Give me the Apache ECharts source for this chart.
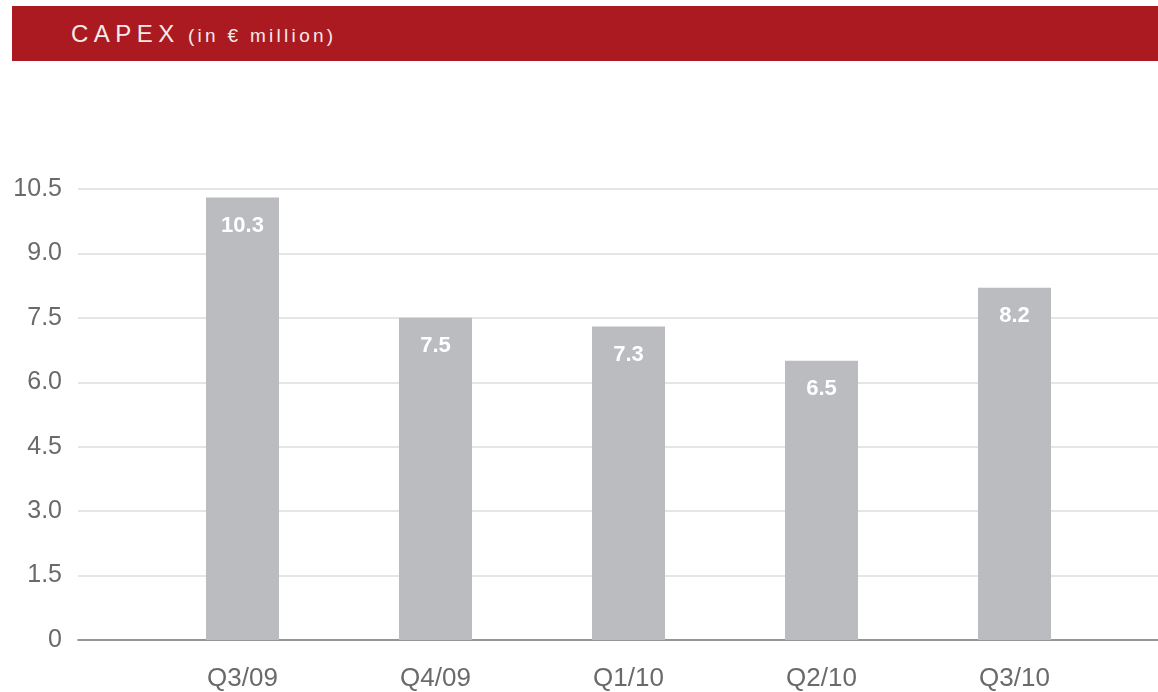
<!DOCTYPE html>
<html>
<head>
<meta charset="utf-8">
<title>CAPEX</title>
<script src="https://cdn.jsdelivr.net/npm/echarts@6/dist/echarts.min.js"></script>
<style>
  html, body { margin: 0; padding: 0; background: #ffffff; }
  #wrap { position: relative; width: 1158px; height: 692px; }
  #header {
    position: absolute; left: 12px; top: 6px; width: 1146px; height: 55px;
    background: #ab1a20; z-index: 2;
    font-family: "Liberation Sans", Arial, sans-serif; color: #f6eaea;
    font-size: 24px; line-height: 55px;
    box-sizing: border-box; padding-left: 59px; white-space: nowrap;
  }
  #header .main { font-size: 24px; letter-spacing: 5.5px; }
  #header .unit { font-size: 19px; letter-spacing: 3.3px; margin-left: 8px; }
  #chart { position: absolute; left: 0; top: 0; width: 1158px; height: 692px; }
</style>
</head>
<body>
<div id="wrap">
  <div id="chart"></div>
  <div id="header"><span class="main">CAPEX</span><span class="unit">(in € million)</span></div>
</div>
<script>
// Quarterly capital expenditure, € million
const quarters = ['Q3/09', 'Q4/09', 'Q1/10', 'Q2/10', 'Q3/10'];
const capex = [10.3, 7.5, 7.3, 6.5, 8.2];
const yTicks = { min: 0, max: 10.5, step: 1.5 };

const font = '"Liberation Sans", Arial, sans-serif';
const chart = echarts.init(document.getElementById('chart'), null, { renderer: 'canvas' });

chart.setOption({
  animation: false,
  textStyle: { fontFamily: font },
  grid: [
    // full-width grid carrying the value scale, gridlines and baseline
    { left: 78, right: 0, top: 189, bottom: 52 },
    // inner grid where the quarterly bars sit
    { left: 146, right: 47, top: 189, bottom: 52 }
  ],
  xAxis: [
    {
      type: 'category', gridIndex: 0, data: quarters,
      axisLine: { show: true, lineStyle: { color: '#7b7b7b', width: 1.5 } },
      axisTick: { show: false }, axisLabel: { show: false }, splitLine: { show: false }
    },
    {
      type: 'category', gridIndex: 1, data: quarters,
      axisLine: { show: false }, axisTick: { show: false },
      axisLabel: { color: '#6a6a6a', fontSize: 26, margin: 26, fontFamily: font }
    }
  ],
  yAxis: [
    {
      type: 'value', gridIndex: 0,
      min: yTicks.min, max: yTicks.max, interval: yTicks.step,
      axisLine: { show: false }, axisTick: { show: false },
      splitLine: { lineStyle: { color: '#dcdcdc', width: 1.5 } },
      axisLabel: {
        color: '#6a6a6a', fontSize: 25, margin: 16, fontFamily: font,
        formatter: v => (v === 0 ? '0' : v.toFixed(1))
      }
    },
    {
      type: 'value', gridIndex: 1,
      min: yTicks.min, max: yTicks.max, interval: yTicks.step,
      show: false, splitLine: { show: false }
    }
  ],
  series: [
    {
      type: 'bar', xAxisIndex: 1, yAxisIndex: 1,
      data: capex, barWidth: 73,
      itemStyle: { color: '#bbbcc0' },
      label: {
        show: true, position: 'insideTop', distance: 17,
        color: '#ffffff', fontWeight: 'bold', fontSize: 22, fontFamily: font,
        formatter: p => p.value.toFixed(1)
      }
    }
  ]
});
</script>
</body>
</html>
